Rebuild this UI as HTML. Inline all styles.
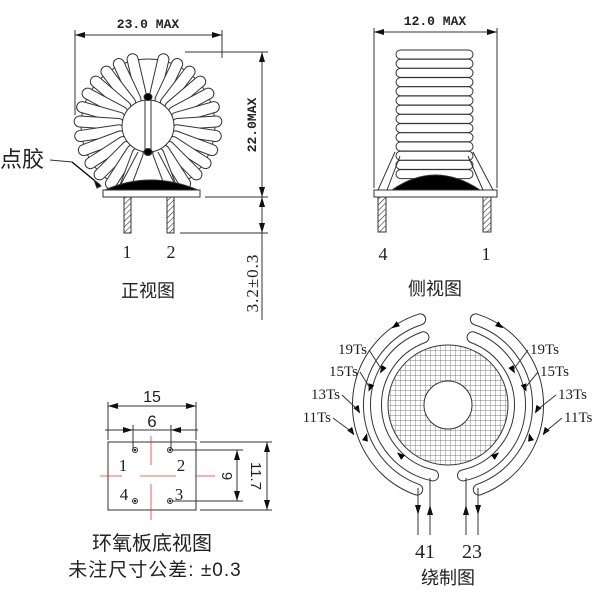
<!DOCTYPE html>
<html><head><meta charset="utf-8"><style>
html,body{margin:0;padding:0;background:#fff;width:600px;height:600px;overflow:hidden}
svg{display:block}
.t{font-family:"Liberation Serif","Noto Serif CJK SC",serif;fill:#222}
.c{font-family:"Liberation Sans","Noto Sans CJK SC",sans-serif;fill:#222}
.m{font-family:"Liberation Mono",monospace;font-weight:bold;fill:#222}
</style></head><body>
<svg id="s" width="600" height="600" viewBox="0 0 600 600" xmlns="http://www.w3.org/2000/svg">
<defs>
<pattern id="grid" width="5" height="5" patternUnits="userSpaceOnUse">
<path d="M0 0H5M0 0V5" stroke="#555" stroke-width="0.7" fill="none"/>
</pattern>
<pattern id="hatch" width="4" height="4" patternUnits="userSpaceOnUse" patternTransform="rotate(45)">
<line x1="0" y1="0" x2="0" y2="4" stroke="#333" stroke-width="1.2"/>
</pattern>
<marker id="ar" viewBox="0 0 10 6" refX="10" refY="3" markerWidth="10" markerHeight="6" orient="auto-start-reverse" markerUnits="userSpaceOnUse">
<path d="M0 0L10 3L0 6z" fill="#111"/></marker>
</defs>
<g id="front" stroke="#333" stroke-width="1" fill="none">
<circle cx="148" cy="126" r="67"/>
<g id="spokes"></g>
<circle cx="148" cy="126" r="26" fill="#fff"/>
<line x1="145" y1="97" x2="145" y2="152"/><line x1="151" y1="97" x2="151" y2="152"/>
<ellipse cx="148" cy="97" rx="4" ry="3.5" fill="#000"/>
<ellipse cx="148" cy="152" rx="4" ry="3.5" fill="#000"/>
<line x1="138" y1="152" x2="120" y2="186"/><line x1="158" y1="152" x2="176" y2="186"/>
<path d="M105 190 Q150 170 198 190Z" fill="#000"/>
<rect x="103" y="190" width="97" height="7" fill="#fff"/>
<rect x="124" y="197" width="7" height="36" fill="url(#hatch)"/>
<rect x="167" y="197" width="7" height="36" fill="url(#hatch)"/>
<line x1="75" y1="35" x2="222" y2="35" marker-start="url(#ar)" marker-end="url(#ar)"/>
<line x1="75" y1="30" x2="75" y2="115"/><line x1="222" y1="30" x2="222" y2="58"/>
<line x1="185" y1="52" x2="268" y2="52"/>
<line x1="205" y1="197" x2="268" y2="197"/>
<line x1="180" y1="233" x2="268" y2="233"/>
<line x1="262" y1="52" x2="262" y2="320"/>
<line x1="262" y1="62" x2="262" y2="52" marker-end="url(#ar)"/>
<line x1="262" y1="185" x2="262" y2="197" marker-end="url(#ar)"/>
<line x1="262" y1="207" x2="262" y2="197" marker-end="url(#ar)"/>
<line x1="262" y1="222" x2="262" y2="233" marker-end="url(#ar)"/>
<line x1="50" y1="160" x2="72" y2="162"/><line x1="72" y1="162" x2="100" y2="185" stroke="#000" stroke-width="1.3"/>
<path d="M94 180 L101 186 L97 188Z" fill="#000"/>
</g>
<text class="m" x="148" y="28" font-size="13" text-anchor="middle">23.0 MAX</text>
<text class="m" font-size="13" text-anchor="middle" transform="translate(256,125) rotate(-90)">22.0MAX</text>
<text class="t" font-size="17" text-anchor="middle" letter-spacing="1" transform="translate(258,283) rotate(-90)">3.2±0.3</text>
<text class="t" x="127" y="258" font-size="18" text-anchor="middle">1</text>
<text class="t" x="171" y="258" font-size="18" text-anchor="middle">2</text>
<text class="c" x="148" y="297" font-size="18" text-anchor="middle">正视图</text>
<text class="c" x="0" y="167" font-size="22">点胶</text>

<g id="side" stroke="#333" stroke-width="1" fill="none">
<line x1="374" y1="32" x2="497" y2="32" marker-start="url(#ar)" marker-end="url(#ar)"/>
<line x1="374" y1="28" x2="374" y2="188"/><line x1="497" y1="28" x2="497" y2="188"/>
<g id="coil"></g>
<line x1="395" y1="152" x2="378" y2="190"/><line x1="400" y1="156" x2="387" y2="190"/>
<line x1="473" y1="152" x2="493" y2="190"/><line x1="468" y1="156" x2="483" y2="190"/>
<path d="M392 190 Q435 160 480 190Z" fill="#000"/>
<rect x="374" y="190" width="123" height="7" fill="#fff"/>
<rect x="378" y="197" width="8" height="35" fill="url(#hatch)"/>
<rect x="483" y="197" width="8" height="35" fill="url(#hatch)"/>
</g>
<text class="m" x="435" y="25" font-size="13" text-anchor="middle">12.0 MAX</text>
<text class="t" x="383" y="260" font-size="18" text-anchor="middle">4</text>
<text class="t" x="486" y="260" font-size="18" text-anchor="middle">1</text>
<text class="c" x="435" y="295" font-size="18" text-anchor="middle">侧视图</text>

<g id="bottom" stroke="#333" stroke-width="1" fill="none">
<rect x="108" y="442" width="88" height="68"/>
<line x1="108" y1="406" x2="196" y2="406" marker-start="url(#ar)" marker-end="url(#ar)"/>
<line x1="108" y1="402" x2="108" y2="440"/><line x1="196" y1="402" x2="196" y2="440"/>
<line x1="105" y1="430" x2="198" y2="430"/>
<line x1="118" y1="430" x2="133" y2="430" marker-end="url(#ar)"/>
<line x1="186" y1="430" x2="171" y2="430" marker-end="url(#ar)"/>
<line x1="133" y1="425" x2="133" y2="450"/><line x1="171" y1="425" x2="171" y2="450"/>
<g stroke="#e33" stroke-width="0.8">
<line x1="151" y1="436" x2="151" y2="465"/><line x1="151" y1="484" x2="151" y2="520"/>
<line x1="100" y1="476" x2="122" y2="476"/><line x1="140" y1="476" x2="176" y2="476"/><line x1="195" y1="476" x2="215" y2="476"/>
</g>
<circle cx="135" cy="450" r="2.5"/><circle cx="135" cy="450" r="0.8" fill="#333"/>
<circle cx="170" cy="450" r="2.5"/><circle cx="170" cy="450" r="0.8" fill="#333"/>
<circle cx="135" cy="501" r="2.5"/><circle cx="135" cy="501" r="0.8" fill="#333"/>
<circle cx="170" cy="501" r="2.5"/><circle cx="170" cy="501" r="0.8" fill="#333"/>
<line x1="172" y1="450" x2="243" y2="450"/><line x1="172" y1="501" x2="243" y2="501"/>
<line x1="237" y1="450" x2="237" y2="501" marker-start="url(#ar)" marker-end="url(#ar)"/>
<line x1="200" y1="442" x2="272" y2="442"/><line x1="200" y1="510" x2="272" y2="510"/>
<line x1="267" y1="442" x2="267" y2="510" marker-start="url(#ar)" marker-end="url(#ar)"/>
</g>
<text class="c" x="152" y="402" font-size="16" text-anchor="middle" fill="#444">15</text>
<text class="c" x="152" y="427" font-size="17" text-anchor="middle" fill="#444">6</text>
<text class="t" x="123" y="471" font-size="17" text-anchor="middle">1</text>
<text class="t" x="181" y="471" font-size="17" text-anchor="middle">2</text>
<text class="t" x="124" y="500" font-size="17" text-anchor="middle">4</text>
<text class="t" x="179" y="500" font-size="17" text-anchor="middle">3</text>
<text class="c" font-size="15" text-anchor="middle" transform="translate(222,476) rotate(90)">9</text>
<text class="c" font-size="15" text-anchor="middle" transform="translate(251,476) rotate(90)">11.7</text>
<text class="c" x="152" y="550" font-size="20" text-anchor="middle">环氧板底视图</text>
<text class="c" x="155" y="576" font-size="19" text-anchor="middle" letter-spacing="1">未注尺寸公差:  ±0.3</text>

<g id="wind" stroke="#333" stroke-width="1" fill="none">
<circle cx="448" cy="405" r="60" fill="url(#grid)"/>
<circle cx="448" cy="405" r="24" fill="#fff"/>
<g id="bands"></g>
<line x1="418" y1="488" x2="418" y2="535"/><line x1="430" y1="478" x2="430" y2="535"/>
<line x1="466" y1="478" x2="466" y2="535"/><line x1="478" y1="488" x2="478" y2="535"/>
<line x1="418" y1="500" x2="418" y2="515" marker-end="url(#ar)"/>
<line x1="430" y1="520" x2="430" y2="505" marker-end="url(#ar)"/>
<line x1="466" y1="520" x2="466" y2="505" marker-end="url(#ar)"/>
<line x1="478" y1="500" x2="478" y2="515" marker-end="url(#ar)"/>
<g id="arrows"></g>
<line x1="369" y1="350" x2="382" y2="370"/><line x1="360" y1="372" x2="370" y2="388"/>
<line x1="342" y1="395" x2="358" y2="410"/><line x1="333" y1="418" x2="352" y2="432"/>
<line x1="528" y1="350" x2="513" y2="370"/><line x1="538" y1="372" x2="525" y2="388"/>
<line x1="556" y1="395" x2="537" y2="410"/><line x1="562" y1="418" x2="545" y2="432"/>
</g>
<g class="t" font-size="15">
<text x="367" y="354" text-anchor="end">19Ts</text>
<text x="358" y="376" text-anchor="end">15Ts</text>
<text x="340" y="399" text-anchor="end">13Ts</text>
<text x="331" y="422" text-anchor="end">11Ts</text>
<text x="530" y="354">19Ts</text>
<text x="540" y="376">15Ts</text>
<text x="558" y="399">13Ts</text>
<text x="564" y="422">11Ts</text>
</g>
<text class="t" x="425" y="558" font-size="20" text-anchor="middle">41</text>
<text class="t" x="472" y="558" font-size="20" text-anchor="middle">23</text>
<text class="c" x="448" y="584" font-size="18" text-anchor="middle">绕制图</text>
</svg>
<script>
var NS="http://www.w3.org/2000/svg";
function el(p,n,a){var e=document.createElementNS(NS,n);for(var k in a)e.setAttribute(k,a[k]);p.appendChild(e);return e;}
var sp=document.getElementById("spokes");
var angs=[];for(var a=13;a<=160;a+=12.2){angs.push(a);angs.push(-a);}
angs.forEach(function(a){el(sp,"rect",{x:142.5,y:52,width:11,height:50,rx:5.5,fill:"#fff",stroke:"#333",transform:"rotate("+a+" 148 126)"});});
var co=document.getElementById("coil");
for(var i=0;i<14;i++){el(co,"rect",{x:396,y:50+i*9.2,width:77,height:9,rx:4.5,fill:"#fff",stroke:"#333"});}
var b=document.getElementById("bands");
function arc(r,p1,p2,side){var cx=448,cy=405,s=side;function P(p){var t=p*Math.PI/180;return [(cx+s*r*Math.sin(t)).toFixed(1),(cy-r*Math.cos(t)).toFixed(1)];}
var A=P(p1),B=P(p2);return "M"+A[0]+" "+A[1]+" A"+r+" "+r+" 0 0 "+(s<0?0:1)+" "+B[0]+" "+B[1];}
[[-1],[1]].forEach(function(q){var s=q[0];
[[90,18,160],[72,20,168]].forEach(function(c){var d=arc(c[0],c[1],c[2],s);
el(b,"path",{d:d,stroke:"#333","stroke-width":12,"stroke-linecap":"round"});
el(b,"path",{d:d,stroke:"#fff","stroke-width":10,"stroke-linecap":"round"});});});
var ar=document.getElementById("arrows");
function tri(x,y,ang){el(ar,"path",{d:"M-4 -3L4 0L-4 3Z",fill:"#000",stroke:"none",transform:"translate("+x+" "+y+") rotate("+ang+")"});}
tri(382,370,120);tri(370,388,110);tri(358,410,60);tri(352,432,55);tri(395,326,145);tri(400,455,-140);tri(366,437,-75);
tri(513,370,60);tri(525,388,70);tri(537,410,120);tri(545,432,125);tri(500,326,35);tri(496,455,-40);tri(530,437,-105);
</script>
</body></html>
